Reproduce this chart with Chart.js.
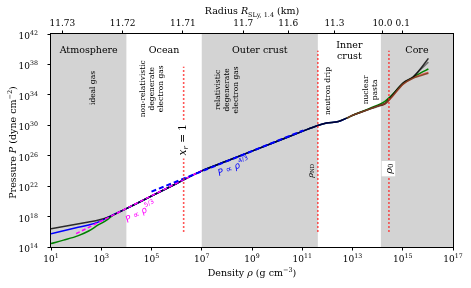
<!DOCTYPE html>
<html>
<head>
<meta charset="utf-8">
<script src="https://cdn.jsdelivr.net/npm/chart.js@4.4.0/dist/chart.umd.min.js"></script>
<style>
  html, body { margin: 0; padding: 0; background: #fff; }
</style>
</head>
<body>
<canvas id="eosChart" width="471" height="288"></canvas>
<script>
// all values are log10 (density in g cm^-3, pressure in dyne cm^-2)
const densityTickExps = [1, 3, 5, 7, 9, 11, 13, 15, 17];
const pressureTickExps = [14, 18, 22, 26, 30, 34, 38, 42];
const radiusTickLogRho = [1.45, 3.85, 6.25, 8.65, 10.44, 12.28, 14.19, 15.0];
const radiusTickLabels = ['11.73', '11.72', '11.71', '11.7', '11.6', '11.3', '10.0', '0.1'];

const regionNames = ['Atmosphere', 'Ocean', 'Outer crust', 'Inner\ncrust', 'Core'];
const regionEdges = [1, 4, 7, 11.62, 14.13, 17];
const regionShaded = [true, false, true, false, true];

// low density envelopes + crust
const blackLogRho = [1, 2, 2.5, 2.9, 3.3, 4, 5, 6, 7, 8, 9, 10, 11, 11.62, 11.97, 12.44, 12.77, 13.03, 13.7, 14.1, 14.29, 14.5, 15.02, 15.42, 15.7, 16.02];
const blackLogP   = [16.4, 17.0, 17.3, 17.56, 17.96, 19.05, 20.7, 22.35, 24.0, 25.3, 26.6, 27.9, 29.2, 29.98, 30.3, 30.5, 30.94, 31.35, 32.16, 32.65, 32.85, 33.6, 35.55, 36.35, 37.4, 38.8];

const blueLogRho = [1, 2, 2.5, 2.9, 3.3, 4, 5, 6, 7, 8, 9, 10, 11, 11.62, 11.97, 12.44, 12.77];
const blueLogP   = [15.75, 16.52, 16.88, 17.3, 17.96, 19.05, 20.7, 22.35, 24.0, 25.3, 26.6, 27.9, 29.2, 29.98, 30.3, 30.5, 30.94];

const greenLogRho = [1, 1.5, 2.09, 2.5, 2.88, 3.2, 3.5, 4, 5, 6, 7, 8, 9, 10, 11, 11.62, 11.97, 12.44, 12.77, 13.03, 13.7, 14.29, 14.5, 15.02, 15.42, 15.7, 16.02];
const greenLogP   = [14.45, 14.9, 15.5, 16.1, 16.9, 17.5, 18.25, 19.05, 20.7, 22.35, 24.0, 25.3, 26.6, 27.9, 29.2, 29.98, 30.3, 30.5, 30.94, 31.35, 32.25, 33.15, 33.75, 35.5, 36.3, 36.85, 37.4];

// core equations of state
const brownLogRho = [12.77, 13.03, 13.7, 14.1, 14.29, 14.5, 15.02, 15.42, 15.7, 16.02];
const brownLogP   = [30.94, 31.35, 32.16, 32.65, 32.85, 33.5, 35.45, 36.2, 36.5, 36.85];
const grayLogRho = [13.03, 13.7, 14.29, 14.5, 15.02, 15.42, 15.7, 16.02];
const grayLogP   = [31.35, 32.16, 32.85, 33.6, 35.6, 36.4, 37.3, 38.3];
const redLogRho = [14.0, 14.29, 14.5, 15.02, 15.42, 15.7, 16.02];
const redLogP   = [32.55, 32.8, 33.45, 35.4, 36.25, 36.6, 36.95];

// power laws
const nonRelLogRho = [2.0, 7.0];
const nonRelLogP   = [15.75, 24.05];
const relLogRho = [5.0, 11.05];
const relLogP   = [21.28, 29.34];

// marker densities (x_r = 1, neutron drip, saturation)
const xrLogRho = [6.28, 6.28],   xrLogP = [16, 37.7];
const ndLogRho = [11.62, 11.62], ndLogP = [16, 39.8];
const satLogRho = [14.45, 14.45], satLogP = [16, 39.8];

const SERIF = '"DejaVu Serif", serif';
const SANS = '"DejaVu Sans", sans-serif';

const pts = (lx, ly) => lx.map((v, i) => ({ x: Math.pow(10, v), y: Math.pow(10, ly[i]) }));

function curve(lx, ly, color, width, order, extra) {
    return Object.assign({
        data: pts(lx, ly),
        borderColor: color,
        borderWidth: width,
        pointRadius: 0,
        showLine: true,
        fill: false,
        cubicInterpolationMode: 'monotone',
        order: order
    }, extra || {});
}

function vline(lx, ly) {
    return {
        data: pts(lx, ly), borderColor: '#ff2020', borderWidth: 1.6, borderDash: [1.6, 2.4],
        pointRadius: 0, showLine: true, fill: false, tension: 0, order: 0
    };
}

function seg(t, size, opt) {
    opt = opt || {};
    const fam = opt.sans ? SANS : SERIF;
    return { t: t, font: (opt.italic ? 'italic ' : '') + size + 'px ' + fam, dy: opt.dy || 0 };
}

function drawRich(ctx, segs, x, y, align) {
    let w = 0;
    segs.forEach(s => { ctx.font = s.font; w += ctx.measureText(s.t).width; });
    let cx = align === 'center' ? x - w / 2 : (align === 'right' ? x - w : x);
    ctx.textAlign = 'left';
    segs.forEach(s => {
        ctx.font = s.font;
        ctx.fillText(s.t, cx, y + s.dy);
        cx += ctx.measureText(s.t).width;
    });
    return w;
}

function power(exp, big, small, rise) {
    return [seg('10', big), seg(String(exp), small, { dy: -rise })];
}

const eosDecor = {
    id: 'eosDecor',
    beforeDatasetsDraw(chart) {
        const { ctx, chartArea: a, scales: { x } } = chart;
        ctx.save();
        ctx.fillStyle = '#d3d3d3';
        for (let i = 0; i < regionNames.length; i++) {
            if (!regionShaded[i]) continue;
            const x0 = x.getPixelForValue(Math.pow(10, regionEdges[i]));
            const x1 = x.getPixelForValue(Math.pow(10, regionEdges[i + 1]));
            ctx.fillRect(x0, a.top, x1 - x0, a.bottom - a.top);
        }
        ctx.restore();
    },
    afterDatasetsDraw(chart) {
        const { ctx, scales: { x, y } } = chart;
        const px = lr => x.getPixelForValue(Math.pow(10, lr));
        const py = lp => y.getPixelForValue(Math.pow(10, lp));
        ctx.save();
        ctx.fillStyle = '#000';
        ctx.textBaseline = 'alphabetic';

        // region titles
        for (let i = 0; i < regionNames.length; i++) {
            const cx = px((regionEdges[i] + regionEdges[i + 1]) / 2);
            const lines = regionNames[i].split('\n');
            lines.forEach((ln, k) => {
                ctx.font = '9.5px ' + SERIF;
                ctx.textAlign = 'center';
                ctx.fillText(ln, cx, (lines.length > 1 ? 48 : 53) + k * 11);
            });
        }

        // rotated physics notes
        const notes = [
            { lr: 2.67, lp: 34.9, lines: ['ideal gas'] },
            { lr: 5.02, lp: 34.8, lines: ['non-relativistic', 'degenerate', 'electron gas'] },
            { lr: 8.0, lp: 34.65, lines: ['relativistic', 'degenerate', 'electron gas'] },
            { lr: 12.02, lp: 34.5, lines: ['neutron drip'] },
            { lr: 13.72, lp: 34.65, lines: ['nuclear', 'pasta'] }
        ];
        notes.forEach(n => {
            ctx.save();
            ctx.translate(px(n.lr), py(n.lp));
            ctx.rotate(-Math.PI / 2);
            ctx.font = '7.5px ' + SERIF;
            ctx.textAlign = 'center';
            ctx.textBaseline = 'middle';
            const gap = 9;
            n.lines.forEach((ln, k) => {
                ctx.fillText(ln, 0, (k - (n.lines.length - 1) / 2) * gap);
            });
            ctx.restore();
        });

        // boxed markers on the red lines
        function boxed(segs, cx, cy, pad) {
            ctx.save();
            ctx.translate(cx, cy);
            ctx.rotate(-Math.PI / 2);
            let w = 0;
            segs.forEach(s => { ctx.font = s.font; w += ctx.measureText(s.t).width; });
            if (pad) {
                ctx.fillStyle = '#fff';
                ctx.fillRect(-w / 2 - pad, -6 - pad / 2, w + 2 * pad, 11 + pad);
            }
            ctx.fillStyle = '#000';
            ctx.textBaseline = 'middle';
            drawRich(ctx, segs, 0, 0, 'center');
            ctx.restore();
        }
        boxed([seg('x', 10.5, { italic: true }), seg('r', 7, { italic: true, dy: 2.5 }), seg(' = 1', 10.5)],
              px(6.28), py(28.1), 3);
        boxed([seg('ρ', 8, { italic: true }), seg('ND', 5.5, { dy: 2 })], px(11.33), py(24.03), 0);
        boxed([seg('ρ', 10, { italic: true }), seg('0', 7, { dy: 2.5 })], px(14.45), py(24.3), 2.5);

        // power law annotations
        function slanted(segs, color, lr, lp, angle) {
            ctx.save();
            ctx.translate(px(lr), py(lp));
            ctx.rotate(angle * Math.PI / 180);
            ctx.fillStyle = color;
            ctx.textBaseline = 'middle';
            drawRich(ctx, segs, 0, 0, 'center');
            ctx.restore();
        }
        slanted([seg('P', 9, { italic: true, sans: true }), seg(' ∝ ', 9, { sans: true }),
                 seg('ρ', 9, { italic: true, sans: true }), seg('5/3', 6.3, { sans: true, dy: -4 })],
                '#ff00ff', 4.58, 18.52, -29);
        slanted([seg('P', 9, { italic: true, sans: true }), seg(' ∝ ', 9, { sans: true }),
                 seg('ρ', 9, { italic: true, sans: true }), seg('4/3', 6.3, { sans: true, dy: -4 })],
                '#0000ff', 8.28, 24.43, -22);
        ctx.restore();
    },
    afterDraw(chart) {
        const { ctx, chartArea: a, scales: { x, y, x2 } } = chart;
        ctx.save();
        // frame
        ctx.strokeStyle = '#000';
        ctx.lineWidth = 1;
        ctx.strokeRect(Math.round(a.left) - 0.5, Math.round(a.top) - 0.5,
                       Math.round(a.right - a.left) + 1, Math.round(a.bottom - a.top) + 1);
        ctx.fillStyle = '#000';
        ctx.textBaseline = 'alphabetic';

        // bottom tick labels
        densityTickExps.forEach(e => {
            drawRich(ctx, power(e, 9, 6.3, 4), x.getPixelForValue(Math.pow(10, e)), a.bottom + 14.5, 'center');
        });
        // left tick labels
        pressureTickExps.forEach(e => {
            drawRich(ctx, power(e, 9, 6.3, 4), 38, y.getPixelForValue(Math.pow(10, e)) + 5, 'right');
        });
        // top tick labels
        ctx.font = '9px ' + SERIF;
        ctx.textAlign = 'center';
        radiusTickLogRho.forEach((lr, i) => {
            ctx.fillText(radiusTickLabels[i], x2.getPixelForValue(Math.pow(10, lr)), 26);
        });

        const midX = (a.left + a.right) / 2;
        // axis titles
        drawRich(ctx, [seg('Density ', 9.5), seg('ρ', 9.5, { italic: true }), seg(' (g cm', 9.5),
                       seg('−3', 6.5, { dy: -4 }), seg(')', 9.5)], midX, 276, 'center');
        drawRich(ctx, [seg('Radius ', 9.5), seg('R', 9.5, { italic: true }), seg('SLy, 1.4', 6.5, { dy: 2.5 }),
                       seg(' (km)', 9.5)], midX, 14, 'center');
        ctx.save();
        ctx.translate(16, (a.top + a.bottom) / 2 + 2);
        ctx.rotate(-Math.PI / 2);
        drawRich(ctx, [seg('Pressure ', 9.5), seg('P', 9.5, { italic: true }), seg(' (dyne cm', 9.5),
                       seg('−2', 6.5, { dy: -4 }), seg(')', 9.5)], 0, 0, 'center');
        ctx.restore();
        ctx.restore();
    }
};

const tickGrid = { drawOnChartArea: false, drawTicks: true, tickLength: 3.5, color: '#000', lineWidth: 1 };

const ctx = document.getElementById('eosChart').getContext('2d');
const eosChart = new Chart(ctx, {
    type: 'scatter',
    data: {
        datasets: [
            curve(greenLogRho, greenLogP, '#008000', 1.5, 9),
            curve(blueLogRho, blueLogP, '#0000ff', 1.5, 8),
            curve(redLogRho, redLogP, 'rgba(225, 60, 50, 0.75)', 1.5, 7),
            curve(grayLogRho, grayLogP, 'rgba(0, 0, 0, 0.45)', 1.5, 6),
            curve(blackLogRho, blackLogP, 'rgba(0, 0, 0, 0.8)', 1.5, 5),
            curve(brownLogRho, brownLogP, 'rgba(130, 65, 35, 0.9)', 1.5, 4),
            curve(nonRelLogRho, nonRelLogP, '#ff00ff', 1.5, 3, { borderDash: [4, 2.5], tension: 0, cubicInterpolationMode: 'default' }),
            curve(relLogRho, relLogP, '#0000ff', 2, 2, { borderDash: [5, 3], tension: 0, cubicInterpolationMode: 'default' }),
            vline(xrLogRho, xrLogP),
            vline(ndLogRho, ndLogP),
            vline(satLogRho, satLogP)
        ]
    },
    options: {
        responsive: false,
        animation: false,
        devicePixelRatio: 1,
        layout: { padding: { left: 0, right: 18, top: 0, bottom: 0 } },
        plugins: { legend: { display: false }, tooltip: { enabled: false } },
        scales: {
            x: {
                type: 'logarithmic', position: 'bottom', min: 1e1, max: 1e17,
                afterBuildTicks: s => { s.ticks = densityTickExps.map(e => ({ value: Math.pow(10, e) })); },
                afterFit: s => { s.height = 41; },
                ticks: { display: false },
                grid: tickGrid,
                border: { display: false }
            },
            x2: {
                type: 'logarithmic', position: 'top', min: 1e1, max: 1e17,
                afterBuildTicks: s => { s.ticks = radiusTickLogRho.map(e => ({ value: Math.pow(10, e) })); },
                afterFit: s => { s.height = 34; },
                ticks: { display: false },
                grid: tickGrid,
                border: { display: false }
            },
            y: {
                type: 'logarithmic', min: 1e14, max: 1e42,
                afterBuildTicks: s => { s.ticks = pressureTickExps.map(e => ({ value: Math.pow(10, e) })); },
                afterFit: s => { s.width = 51; },
                ticks: { display: false },
                grid: tickGrid,
                border: { display: false }
            }
        }
    },
    plugins: [eosDecor]
});
</script>
</body>
</html>
